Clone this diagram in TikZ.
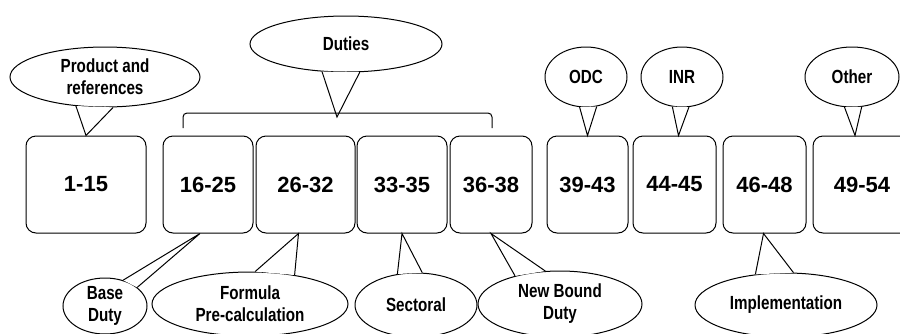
\documentclass[tikz,border=0pt]{standalone}
\usepackage{fontspec}
\setmainfont{Liberation Sans}
\newfontfamily\narrowfont[FakeStretch=0.8]{Liberation Sans}
\usetikzlibrary{shapes.geometric}
\newcommand\callouttail[3]{\fill[white] (#1) -- (#2) -- (#3) -- cycle; \draw[tail] (#1) -- (#2) -- (#3);}
\begin{document}
\begin{tikzpicture}[x=1pt,y=-1pt,
  numbox/.style={draw, line width=1pt, rounded corners=10pt, minimum height=97pt, inner sep=0pt,
    font=\fontsize{22}{26}\selectfont\bfseries},
  bubble/.style={draw, ellipse, line width=1pt, fill=white, inner sep=0pt, align=center,
    font=\narrowfont\bfseries\fontsize{19}{22}\selectfont},
  tail/.style={line width=1pt, line join=miter}]
\useasboundingbox (0,0) rectangle (900,333);
\clip (0,0) rectangle (900,333);
\fill[white] (0,0) rectangle (900,333);

% number boxes
\node[numbox, minimum width=120pt] (b1) at (86,184.5) {1-15};
\node[numbox, minimum width=90pt]  (b2) at (208,184.5) {16-25};
\node[numbox, minimum width=99pt]  (b3) at (305.5,184.5) {26-32};
\node[numbox, minimum width=90pt]  (b4) at (402,184.5) {33-35};
\node[numbox, minimum width=82pt]  (b5) at (491,184.5) {36-38};
\node[numbox, minimum width=81pt]  (b6) at (587.5,184.5) {39-43};
\node[numbox, minimum width=83pt]  (b7) at (674.5,184.5) {44-45};
\node[numbox, minimum width=83pt]  (b8) at (764.5,184.5) {46-48};
\node[numbox, minimum width=98pt]  (b9) at (862,184.5) {49-54};

% top callouts
\node[bubble, minimum width=190pt, minimum height=60pt] (prod) at (105,77) {Product and\\references};
\node[bubble, minimum width=192pt, minimum height=56pt] (duties) at (346,44) {Duties};
\node[bubble, minimum width=82pt, minimum height=60pt] (odc) at (586,77) {ODC};
\node[bubble, minimum width=82pt, minimum height=60pt] (inr) at (682,77) {INR};
\node[bubble, minimum width=94pt, minimum height=60pt] (other) at (852,77) {Other};

% bottom callouts
\node[bubble, minimum width=84pt, minimum height=56pt] (base) at (105,306) {Base\\Duty};
\node[bubble, minimum width=196pt, minimum height=64pt] (formula) at (250,304) {Formula\\Pre-calculation};
\node[bubble, minimum width=122pt, minimum height=64pt] (sect) at (416,305) {Sectoral};
\node[bubble, minimum width=164pt, minimum height=66pt] (newb) at (560,304) {New Bound\\Duty};
\node[bubble, minimum width=182pt, minimum height=64pt] (impl) at (786,305) {Implementation};

% tails
\coordinate (dtip) at (337,117);
\callouttail{prod.225.7}{b1.north}{prod.285}
\callouttail{duties.229.8}{dtip}{duties.296.8}
\callouttail{odc.258.6}{b6.north}{odc.290.8}
\callouttail{inr.252.9}{[xshift=4pt]b7.north}{inr.283.3}
\callouttail{other.256.7}{[xshift=-7pt]b9.north}{other.288.8}
\callouttail{base.55}{[xshift=-8pt]b2.south}{base.30}
\callouttail{formula.81}{[xshift=-7pt]b3.south}{formula.33}
\callouttail{sect.121}{b4.south}{sect.79}
\callouttail{newb.148.8}{b5.south}{newb.114}
\callouttail{impl.135}{[xshift=-1pt]b8.south}{impl.77}

% bracket
\coordinate (brl) at (183,128);
\coordinate (brr) at (492,128);
\draw[line width=1pt, rounded corners=4pt] (brl) -- ++(0,-15) -| (brr);
\end{tikzpicture}
\end{document}
